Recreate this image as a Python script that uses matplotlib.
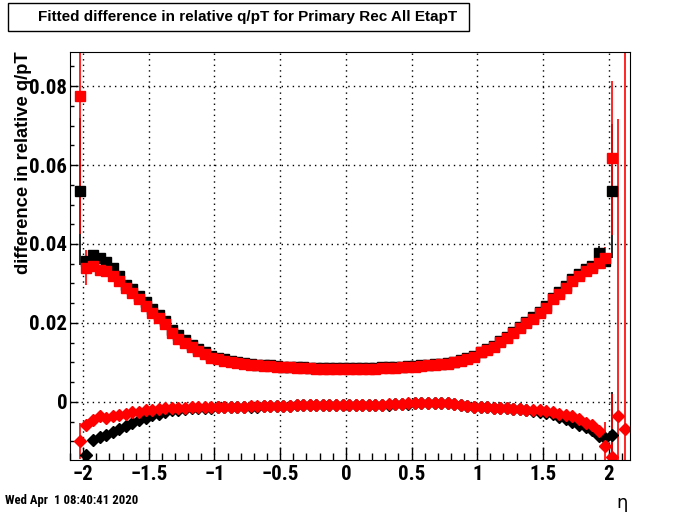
import numpy as np
import matplotlib
matplotlib.use("Agg")
import matplotlib.pyplot as plt
from matplotlib import font_manager
from matplotlib.patches import Rectangle
from matplotlib.ticker import MultipleLocator

# histogram binning: 84 bins of 0.05 starting at -2.05
eta_lo, bin_w, nbins = -2.05, 0.05, 84
eta = eta_lo + bin_w * (np.arange(nbins) + 0.5)

nan = np.nan
# upper series (squares): width of q/pT difference
sig_black = [0.0533, 0.0357, 0.0372, 0.0365, 0.0355, 0.0340, 0.0318, 0.0297, 0.0285, 0.0268,
             0.0252, 0.0235, 0.0220, 0.0205, 0.0182, 0.0168, 0.0156, 0.0145, 0.0134, 0.0125,
             0.0116, 0.0112, 0.0108, 0.0104, 0.0101, 0.0098, 0.0096, 0.0094, 0.0093, 0.0092,
             0.0090, 0.0089, 0.0088, 0.0087, 0.0087, 0.0086, 0.0086, 0.0085, 0.0085, 0.0085,
             0.0085, 0.0085, 0.0085, 0.0086, 0.0086, 0.0086, 0.0087, 0.0088, 0.0088, 0.0089,
             0.0090, 0.0091, 0.0092, 0.0094, 0.0095, 0.0097, 0.0099, 0.0102, 0.0106, 0.0110,
             0.0116, 0.0127, 0.0134, 0.0142, 0.0153, 0.0164, 0.0177, 0.0190, 0.0203, 0.0214,
             0.0228, 0.0242, 0.0264, 0.0277, 0.0294, 0.0311, 0.0325, 0.0336, 0.0345, 0.0376,
             0.0358, 0.0535, nan, nan]
sig_red = [0.0775, 0.0340, 0.0345, 0.0333, 0.0332, 0.0320, 0.0307, 0.0289, 0.0276, 0.0260,
           0.0243, 0.0226, 0.0212, 0.0197, 0.0174, 0.0160, 0.0149, 0.0138, 0.0128, 0.0120,
           0.0112, 0.0108, 0.0104, 0.0101, 0.0098, 0.0095, 0.0093, 0.0092, 0.0091, 0.0090,
           0.0089, 0.0088, 0.0087, 0.0086, 0.0086, 0.0085, 0.0084, 0.0084, 0.0083, 0.0083,
           0.0083, 0.0083, 0.0083, 0.0084, 0.0084, 0.0084, 0.0085, 0.0086, 0.0086, 0.0087,
           0.0088, 0.0089, 0.0090, 0.0092, 0.0093, 0.0095, 0.0097, 0.0100, 0.0104, 0.0108,
           0.0114, 0.0125, 0.0132, 0.0140, 0.0151, 0.0162, 0.0175, 0.0187, 0.0200, 0.0211,
           0.0225, 0.0238, 0.0260, 0.0272, 0.0289, 0.0306, 0.0320, 0.0331, 0.0340, 0.0353,
           0.0365, 0.0618, nan, nan]
sig_black_err = np.zeros(nbins)
sig_red_err = np.zeros(nbins)
sig_black_err[[0, 79, 81]] = [0.0186, 0.0020, 0.0170]
sig_red_err[[0, 1, 80, 81]] = [0.0350, 0.0044, 0.0028, 0.0195]

# lower series (diamonds): mean of q/pT difference
mean_black = [nan, -0.0134, -0.0098, -0.0089, -0.0083, -0.0077, -0.0070, -0.0062, -0.0055, -0.0047,
              -0.0040, -0.0034, -0.0030, -0.0026, -0.0022, -0.0020, -0.0019, -0.0017, -0.0016, -0.0015,
              -0.0015, -0.0014, -0.0014, -0.0013, -0.0013, -0.0012, -0.0012, -0.0012, -0.0011, -0.0011,
              -0.0011, -0.0010, -0.0010, -0.0009, -0.0009, -0.0009, -0.0009, -0.0009, -0.0008, -0.0008,
              -0.0008, -0.0008, -0.0008, -0.0008, -0.0008, -0.0007, -0.0007, -0.0007, -0.0006, -0.0006,
              -0.0005, -0.0004, -0.0003, -0.0002, -0.0002, -0.0003, -0.0004, -0.0006, -0.0008, -0.0010,
              -0.0012, -0.0013, -0.0014, -0.0015, -0.0016, -0.0017, -0.0018, -0.0019, -0.0021, -0.0023,
              -0.0025, -0.0028, -0.0032, -0.0038, -0.0044, -0.0050, -0.0058, -0.0064, -0.0072, -0.0086,
              -0.0093, -0.0084, nan, nan]
mean_red = [-0.0100, -0.0058, -0.0047, -0.0036, -0.0041, -0.0036, -0.0034, -0.0031, -0.0027, -0.0025,
            -0.0022, -0.0021, -0.0019, -0.0017, -0.0016, -0.0015, -0.0015, -0.0014, -0.0014, -0.0014,
            -0.0013, -0.0013, -0.0013, -0.0012, -0.0012, -0.0012, -0.0011, -0.0011, -0.0011, -0.0011,
            -0.0010, -0.0010, -0.0010, -0.0009, -0.0009, -0.0009, -0.0009, -0.0009, -0.0008, -0.0008,
            -0.0008, -0.0008, -0.0008, -0.0008, -0.0007, -0.0007, -0.0007, -0.0006, -0.0006, -0.0005,
            -0.0004, -0.0003, -0.0002, -0.0002, -0.0002, -0.0003, -0.0004, -0.0006, -0.0008, -0.0010,
            -0.0012, -0.0013, -0.0014, -0.0015, -0.0016, -0.0017, -0.0018, -0.0019, -0.0020, -0.0021,
            -0.0022, -0.0024, -0.0027, -0.0030, -0.0033, -0.0036, -0.0044, -0.0055, -0.0058, -0.0075,
            -0.0111, -0.0140, -0.0037, -0.0069]
mean_black_err = np.zeros(nbins)
mean_red_err = np.zeros(nbins)
mean_black_err[[81]] = [0.0110]
mean_red_err[[0, 80, 81, 82, 83]] = [0.0045, 0.0060, 0.0160, 0.0755, 0.1200]

# pick a narrow bold font for the axis labels if one is installed
have = {f.name for f in font_manager.fontManager.ttflist}
narrow = None
for cand in ["Liberation Sans Narrow", "DejaVu Sans Condensed", "Roboto Condensed",
             "Open Sans Condensed", "Nimbus Sans Narrow", "Arial Narrow"]:
    if cand in have:
        narrow = cand
        break
if narrow:
    lab_font, lab_size = [narrow, "DejaVu Sans"], 15
else:
    lab_font, lab_size = ["Liberation Sans", "DejaVu Sans"], 13.5

fig = plt.figure(figsize=(7.0, 5.12), dpi=100)
ax = fig.add_axes([0.1, 0.102, 0.8, 0.796])

ax.errorbar(eta, sig_black, yerr=sig_black_err, fmt="s", color="black", ms=6.5, elinewidth=1.2, capsize=0)
ax.errorbar(eta, mean_black, yerr=mean_black_err, fmt="D", color="black", ms=6.0, elinewidth=1.2, capsize=0)
ax.errorbar(eta, sig_red, yerr=sig_red_err, fmt="s", color="red", ms=6.5, elinewidth=1.2, capsize=0)
ax.errorbar(eta, mean_red, yerr=mean_red_err, fmt="D", color="red", ms=6.0, elinewidth=1.2, capsize=0)

ax.set_xlim(-2.1, 2.163)
ax.set_ylim(-0.0147, 0.0886)

ax.xaxis.set_major_locator(MultipleLocator(0.5))
ax.xaxis.set_minor_locator(MultipleLocator(0.1))
ax.yaxis.set_major_locator(MultipleLocator(0.02))
ax.yaxis.set_minor_locator(MultipleLocator(0.005))
ax.tick_params(axis="x", which="major", direction="in", length=9.5, width=1, pad=4)
ax.tick_params(axis="x", which="minor", direction="in", length=5, width=1)
ax.tick_params(axis="y", which="major", direction="in", length=6, width=1, pad=2)
ax.tick_params(axis="y", which="minor", direction="in", length=3, width=1)
ax.grid(True, which="major", color="black", linestyle=(0, (1, 3)), linewidth=1)

ax.set_xticks([-2, -1.5, -1, -0.5, 0, 0.5, 1, 1.5, 2])
ax.set_xticklabels(["\u22122", "\u22121.5", "\u22121", "\u22120.5", "0", "0.5", "1", "1.5", "2"],
                   family=lab_font, fontweight="bold", fontsize=lab_size)
ax.set_yticks([0, 0.02, 0.04, 0.06, 0.08])
ax.set_yticklabels(["0", "0.02", "0.04", "0.06", "0.08"], family=lab_font, fontweight="bold", fontsize=lab_size)

fig.text(0.034, 0.900, "difference in relative q/pT", rotation=90, ha="center", va="top",
         family=["Liberation Sans", "DejaVu Sans"], fontweight="bold", fontsize=13.2)
fig.text(0.889, 0.018, "\u03b7", ha="center", va="center", family=["DejaVu Sans"], fontsize=13)
fig.text(0.007, 0.022, "Wed Apr  1 08:40:41 2020", ha="left", va="center",
         family=lab_font, fontweight="bold", fontsize=9.2)

fig.patches.append(Rectangle((0.0114, 0.9395), 0.6586, 0.0545, transform=fig.transFigure,
                             facecolor="white", edgecolor="black", linewidth=1))
fig.text(0.354, 0.967, "Fitted difference in relative q/pT for Primary Rec All EtapT", ha="center", va="center",
         family=["Liberation Sans", "DejaVu Sans"], fontweight="bold", fontsize=11.0)

fig.savefig("out.png", dpi=100)
